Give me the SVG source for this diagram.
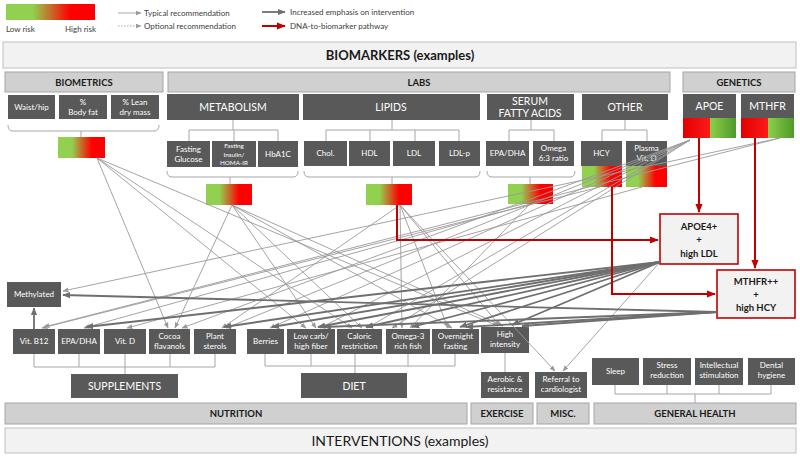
<svg xmlns="http://www.w3.org/2000/svg" width="800" height="456" viewBox="0 0 800 456">
<defs>
<linearGradient id="risk" x1="0" y1="0" x2="1" y2="0">
<stop offset="0" stop-color="#92d050"/><stop offset="0.3" stop-color="#92d050"/><stop offset="0.72" stop-color="#ff0000"/><stop offset="1" stop-color="#ff0000"/>
</linearGradient>
<linearGradient id="red" x1="0" y1="0" x2="1" y2="0"><stop offset="0" stop-color="#e00000"/><stop offset="1" stop-color="#ff1a1a"/></linearGradient>
<linearGradient id="grn" x1="0" y1="0" x2="1" y2="0"><stop offset="0" stop-color="#8fce4a"/><stop offset="1" stop-color="#4e9a2a"/></linearGradient>
<marker id="at" viewBox="0 0 10 10" refX="9" refY="5" markerWidth="6" markerHeight="6" orient="auto" markerUnits="userSpaceOnUse"><path d="M0,1 L10,5 L0,9 z" fill="#9a9a9a"/></marker>
<marker id="ak" viewBox="0 0 10 10" refX="9" refY="5" markerWidth="8" markerHeight="8" orient="auto" markerUnits="userSpaceOnUse"><path d="M0,1 L10,5 L0,9 z" fill="#6f6f6f"/></marker>
<marker id="ar" viewBox="0 0 10 10" refX="9" refY="5" markerWidth="9" markerHeight="9" orient="auto" markerUnits="userSpaceOnUse"><path d="M0,1 L10,5 L0,9 z" fill="#c00000"/></marker>
</defs>
<style>
text{font-family:Lato,"Liberation Sans",sans-serif}
.n{fill:#595959}
.t{fill:#fff;font-size:8px;text-anchor:middle}
.h{fill:#d0d0d0;stroke:#a6a6a6;stroke-width:1}
.ht{fill:#1a1a1a;font-size:9.5px;font-weight:bold;text-anchor:middle}
.big{fill:#f2f2f2;stroke:#bfbfbf;stroke-width:1}
.tr{fill:none;stroke:#a6a6a6;stroke-width:1}
.g{stroke:#9a9a9a;stroke-width:0.9;fill:none;marker-end:url(#at)}
.k{stroke:#6f6f6f;stroke-width:1.8;fill:none;marker-end:url(#ak)}
.r{stroke:#c00000;stroke-width:2;fill:none;marker-end:url(#ar)}
.lg{fill:#404040;font-size:8px}
.mid{fill:#fff;font-size:10.5px;text-anchor:middle}
.rb{fill:#f2f2f2;stroke:#c00000;stroke-width:1.6}
.rt{fill:#1a1a1a;font-size:9.5px;font-weight:bold;text-anchor:middle}
.sm{fill:#fff;font-size:6.3px;text-anchor:middle}
</style>

<g id="legend">
<rect x="6" y="4" width="89" height="16" fill="url(#risk)"/>
<text class="lg" x="6" y="32">Low risk</text>
<text class="lg" x="96" y="32" text-anchor="end">High risk</text>
<line x1="118" y1="13" x2="141" y2="13" stroke="#9a9a9a" stroke-width="0.9" marker-end="url(#at)"/>
<text class="lg" x="144" y="16">Typical recommendation</text>
<line x1="118" y1="26" x2="141" y2="26" stroke="#9a9a9a" stroke-width="0.9" stroke-dasharray="1.5,1.5" marker-end="url(#at)"/>
<text class="lg" x="144" y="29">Optional recommendation</text>
<line x1="262" y1="12" x2="285" y2="12" stroke="#6f6f6f" stroke-width="1.8" marker-end="url(#ak)"/>
<text class="lg" x="290" y="15">Increased emphasis on intervention</text>
<line x1="262" y1="26" x2="285" y2="26" stroke="#c00000" stroke-width="2" marker-end="url(#ar)"/>
<text class="lg" x="290" y="29">DNA-to-biomarker pathway</text>
</g>

<g id="biomarkers-bar"><rect class="big" x="3" y="42" width="793" height="26"/><text x="400" y="60" text-anchor="middle" font-size="13" font-weight="bold" fill="#1a1a1a">BIOMARKERS (examples)</text></g>

<g id="biometrics-header"><rect class="h" x="5" y="72" width="158" height="20"/><text class="ht" x="84" y="86">BIOMETRICS</text></g>
<g id="labs-header"><rect class="h" x="168" y="72" width="502" height="20"/><text class="ht" x="419" y="86">LABS</text></g>
<g id="genetics-header"><rect class="h" x="683" y="72" width="112" height="20"/><text class="ht" x="739" y="86">GENETICS</text></g>

<g id="waist"><rect class="n" x="8" y="95" width="47" height="24"/><text class="t" x="31.5" y="110">Waist/hip</text></g>
<g id="bodyfat"><rect class="n" x="59" y="95" width="48" height="24"/><text class="t" x="83" y="105">%</text><text class="t" x="83" y="115">Body fat</text></g>
<g id="lean"><rect class="n" x="111" y="95" width="48" height="24"/><text class="t" x="135" y="105">% Lean</text><text class="t" x="135" y="115">dry mass</text></g>
<g id="biometrics-risk"><rect x="58" y="137" width="47" height="21" fill="url(#risk)"/></g>

<g id="metabolism"><rect class="n" x="167" y="94" width="132" height="26"/><text class="mid" x="233" y="111" font-size="11">METABOLISM</text></g>
<g id="lipids"><rect class="n" x="303" y="94" width="177" height="26"/><text class="mid" x="391" y="111" font-size="11">LIPIDS</text></g>
<g id="serum"><rect class="n" x="487" y="94" width="87" height="26"/><text class="mid" x="530" y="105">SERUM</text><text class="mid" x="530" y="117">FATTY ACIDS</text></g>
<g id="other"><rect class="n" x="582" y="94" width="86" height="26"/><text class="mid" x="625" y="111" font-size="11">OTHER</text></g>
<g id="apoe"><rect class="n" x="683" y="94" width="53" height="24"/><text class="mid" x="709.5" y="110">APOE</text><rect x="683" y="118" width="27" height="20" fill="url(#red)"/><rect x="710" y="118" width="26" height="20" fill="url(#grn)"/></g>
<g id="mthfr"><rect class="n" x="741" y="94" width="53" height="24"/><text class="mid" x="767.5" y="110">MTHFR</text><rect x="741" y="118" width="27" height="20" fill="url(#red)"/><rect x="768" y="118" width="26" height="20" fill="url(#grn)"/></g>

<g id="fglucose"><rect class="n" x="167" y="141" width="43" height="26"/><text class="t" x="188.5" y="152">Fasting</text><text class="t" x="188.5" y="162">Glucose</text></g>
<g id="finsulin"><rect class="n" x="212" y="141" width="44" height="26"/><text class="sm" x="234" y="148">Fasting</text><text class="sm" x="234" y="156.5">Insulin/</text><text class="sm" x="234" y="165">HOMA-IR</text></g>
<g id="hba1c"><rect class="n" x="258" y="141" width="40" height="26"/><text class="t" x="278" y="157">HbA1C</text></g>
<g id="metabolism-risk"><rect x="206" y="184" width="46" height="21" fill="url(#risk)"/></g>

<g id="chol"><rect class="n" x="304" y="141" width="43" height="25"/><text class="t" x="325.5" y="156">Chol.</text></g>
<g id="hdl"><rect class="n" x="349" y="141" width="41" height="25"/><text class="t" x="369.5" y="156">HDL</text></g>
<g id="ldl"><rect class="n" x="393" y="141" width="42" height="25"/><text class="t" x="414" y="156">LDL</text></g>
<g id="ldlp"><rect class="n" x="439" y="141" width="41" height="25"/><text class="t" x="459.5" y="156">LDL-p</text></g>
<g id="lipids-risk"><rect x="366" y="184" width="46" height="21" fill="url(#risk)"/></g>

<g id="s-epadha"><rect class="n" x="486" y="141" width="43" height="25"/><text class="t" x="507.5" y="156">EPA/DHA</text></g>
<g id="omega63"><rect class="n" x="533" y="141" width="41" height="25"/><text class="t" x="553.5" y="151">Omega</text><text class="t" x="553.5" y="161">6:3 ratio</text></g>
<g id="serum-risk"><rect x="508" y="184" width="45" height="20" fill="url(#risk)"/></g>

<g id="hcy"><rect class="n" x="581" y="141" width="41" height="25"/><text class="t" x="601.5" y="156">HCY</text><rect x="582" y="166" width="40" height="21" fill="url(#risk)"/></g>
<g id="plasmavitd"><rect class="n" x="626" y="141" width="41" height="25"/><text class="t" x="646.5" y="151">Plasma</text><text class="t" x="646.5" y="161">Vit. D</text><rect x="626" y="166" width="41" height="21" fill="url(#risk)"/></g>

<g id="apoe4"><rect class="rb" x="660" y="214" width="78" height="50"/><text class="rt" x="699" y="230">APOE4+</text><text class="rt" x="699" y="243">+</text><text class="rt" x="699" y="257">high LDL</text></g>
<g id="mthfrpp"><rect class="rb" x="717" y="270" width="78" height="48"/><text class="rt" x="756" y="285">MTHFR++</text><text class="rt" x="756" y="298">+</text><text class="rt" x="756" y="311">high HCY</text></g>

<g id="methylated"><rect class="n" x="7" y="282" width="54" height="25"/><text class="t" x="34" y="297">Methylated</text></g>
<g id="vitb12"><rect class="n" x="13" y="329" width="42" height="25"/><text class="t" x="34" y="344">Vit. B12</text></g>
<g id="epadha"><rect class="n" x="58" y="329" width="42" height="25"/><text class="t" x="79" y="344">EPA/DHA</text></g>
<g id="vitd"><rect class="n" x="104" y="329" width="42" height="25"/><text class="t" x="125" y="344">Vit. D</text></g>
<g id="cocoa"><rect class="n" x="149" y="329" width="41" height="25"/><text class="t" x="169.5" y="339">Cocoa</text><text class="t" x="169.5" y="349">flavanols</text></g>
<g id="plantsterols"><rect class="n" x="194" y="329" width="42" height="25"/><text class="t" x="215" y="339">Plant</text><text class="t" x="215" y="349">sterols</text></g>
<g id="berries"><rect class="n" x="247" y="329" width="37" height="25"/><text class="t" x="265.5" y="344">Berries</text></g>
<g id="lowcarb"><rect class="n" x="287" y="329" width="48" height="25"/><text class="t" x="311" y="339">Low carb/</text><text class="t" x="311" y="349">high fiber</text></g>
<g id="caloric"><rect class="n" x="337" y="329" width="45" height="25"/><text class="t" x="359.5" y="339">Caloric</text><text class="t" x="359.5" y="349">restriction</text></g>
<g id="omega3"><rect class="n" x="386" y="329" width="44" height="25"/><text class="t" x="408" y="339">Omega-3</text><text class="t" x="408" y="349">rich fish</text></g>
<g id="overnight"><rect class="n" x="432" y="329" width="47" height="25"/><text class="t" x="455.5" y="339">Overnight</text><text class="t" x="455.5" y="349">fasting</text></g>
<g id="highintensity"><rect class="n" x="481" y="327" width="48" height="26"/><text class="t" x="505" y="337">High</text><text class="t" x="505" y="347">intensity</text></g>
<g id="aerobic"><rect class="n" x="481" y="372" width="48" height="26"/><text class="t" x="505" y="382">Aerobic &amp;</text><text class="t" x="505" y="392">resistance</text></g>
<g id="referral"><rect class="n" x="535" y="372" width="52" height="26"/><text class="t" x="561" y="382">Referral to</text><text class="t" x="561" y="392">cardiologist</text></g>
<g id="sleep"><rect class="n" x="592" y="358" width="47" height="27"/><text class="t" x="615.5" y="374">Sleep</text></g>
<g id="stress"><rect class="n" x="643" y="358" width="48" height="27"/><text class="t" x="667" y="368">Stress</text><text class="t" x="667" y="378">reduction</text></g>
<g id="intellectual"><rect class="n" x="695" y="358" width="48" height="27"/><text class="t" x="719" y="368">Intellectual</text><text class="t" x="719" y="378">stimulation</text></g>
<g id="dental"><rect class="n" x="748" y="358" width="47" height="27"/><text class="t" x="771.5" y="368">Dental</text><text class="t" x="771.5" y="378">hygiene</text></g>

<g id="supplements"><rect class="n" x="71" y="374" width="107" height="24"/><text class="mid" x="124.5" y="390" font-size="11.5">SUPPLEMENTS</text></g>
<g id="diet"><rect class="n" x="301" y="373" width="106" height="25"/><text class="mid" x="354" y="390" font-size="11.5">DIET</text></g>

<g id="nutrition-bar"><rect class="h" x="5" y="403" width="462" height="21"/><text class="ht" x="236" y="417">NUTRITION</text></g>
<g id="exercise-bar"><rect class="h" x="471" y="403" width="62" height="21"/><text class="ht" x="502" y="417">EXERCISE</text></g>
<g id="misc-bar"><rect class="h" x="537" y="403" width="52" height="21"/><text class="ht" x="563" y="417">MISC.</text></g>
<g id="health-bar"><rect class="h" x="594" y="403" width="202" height="21"/><text class="ht" x="695" y="417">GENERAL HEALTH</text></g>
<g id="interventions-bar"><rect class="big" x="5" y="428" width="791" height="25"/><text x="400" y="446" text-anchor="middle" font-size="14" fill="#1a1a1a">INTERVENTIONS (examples)</text></g>

<g id="trees">
<path class="tr" d="M8,125 q0,6 5,6 H154 q5,0 5,-6 M81,131 V137"/>
<path class="tr" d="M233,120 V130 M189,141 V130 H278 V141 M234,130 V141"/>
<path class="tr" d="M167,171 q0,6 5,6 H293 q5,0 5,-6 M230,177 V184"/>
<path class="tr" d="M392,120 V130 M326,141 V130 H459 V141 M370,130 V141 M415,130 V141"/>
<path class="tr" d="M304,171 q0,6 5,6 H475 q5,0 5,-6 M392,177 V184"/>
<path class="tr" d="M531,120 V130 M509,141 V130 H554 V141"/>
<path class="tr" d="M487,171 q0,6 5,6 H570 q5,0 5,-6 M530,177 V184"/>
<path class="tr" d="M625,120 V130 M602,141 V130 H647 V141"/>
<path class="tr" d="M34,354 V367 H215 V354 M79,354 V367 M125,354 V374 M170,354 V367"/>
<path class="tr" d="M265,354 V366 H455 V354 M311,354 V366 M408,354 V366 M355,354 V373"/>
<path class="tr" d="M505,353 V372"/>
<path class="tr" d="M615,385 V394 H771 V385 M667,385 V394 M719,385 V394 M695,394 V403"/>
</g>

<g id="connectors">
<line class="g" x1="97" y1="158" x2="168" y2="328"/>
<line class="g" x1="97" y1="158" x2="306" y2="328"/>
<line class="g" x1="97" y1="158" x2="352" y2="328"/>
<line class="g" x1="97" y1="158" x2="498" y2="326"/>
<line class="g" x1="232" y1="205" x2="175" y2="328"/>
<line class="g" x1="232" y1="205" x2="316" y2="328"/>
<line class="g" x1="232" y1="205" x2="362" y2="328"/>
<line class="g" x1="232" y1="205" x2="452" y2="328"/>
<line class="g" x1="232" y1="205" x2="503" y2="326"/>
<line class="g" x1="400" y1="205" x2="222" y2="328"/>
<line class="g" x1="400" y1="205" x2="402" y2="328"/>
<line class="g" x1="400" y1="205" x2="448" y2="328"/>
<line class="g" x1="400" y1="205" x2="500" y2="326"/>
<line class="g" x1="400" y1="205" x2="555" y2="371"/>
<line class="g" x1="530" y1="204" x2="84" y2="328"/>
<line class="g" x1="530" y1="204" x2="410" y2="328"/>
<line class="g" x1="600" y1="187" x2="42" y2="328"/>
<line class="g" x1="642" y1="187" x2="127" y2="328"/>
<line class="g" x1="690" y1="140" x2="182" y2="328"/>
<line class="g" x1="690" y1="140" x2="226" y2="328"/>
<line class="g" x1="690" y1="140" x2="270" y2="328"/>
<line class="g" x1="690" y1="140" x2="320" y2="328"/>
<line class="g" x1="690" y1="140" x2="367" y2="328"/>
<line class="g" x1="690" y1="140" x2="392" y2="328"/>
<line class="g" x1="780" y1="138" x2="44" y2="327"/>
<line class="g" x1="780" y1="138" x2="63" y2="291"/>
<line class="g" x1="660" y1="262" x2="563" y2="371"/>
<line class="k" x1="660" y1="262" x2="86" y2="327"/>
<line class="k" x1="660" y1="262" x2="224" y2="327"/>
<line class="k" x1="660" y1="262" x2="272" y2="327"/>
<line class="k" x1="660" y1="262" x2="318" y2="327"/>
<line class="k" x1="660" y1="262" x2="366" y2="327"/>
<line class="k" x1="660" y1="262" x2="412" y2="327"/>
<line class="k" x1="660" y1="262" x2="460" y2="327"/>
<line class="k" x1="660" y1="262" x2="512" y2="325"/>
<line class="k" x1="717" y1="312" x2="63" y2="295"/>
<line class="k" x1="717" y1="312" x2="324" y2="327"/>
<line class="k" x1="717" y1="312" x2="466" y2="327"/>
<line class="k" x1="717" y1="312" x2="522" y2="326"/>
<line class="k" x1="34" y1="329" x2="34" y2="308"/>
<path class="r" d="M397,205 V240 H658"/>
<path class="r" d="M612,187 V294 H715"/>
<path class="r" d="M699,138 V212"/>
<path class="r" d="M755,138 V268"/>
</g>
</svg>
